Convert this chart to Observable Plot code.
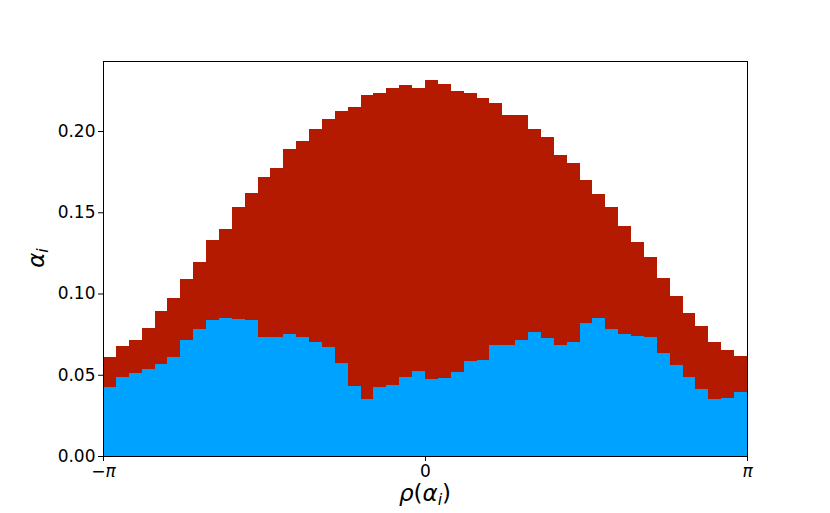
<!DOCTYPE html>
<html>
<head>
<meta charset="utf-8">
<script src="https://cdn.jsdelivr.net/npm/d3@7"></script>
<script src="https://cdn.jsdelivr.net/npm/@observablehq/plot@0.6"></script>
<style>
  html, body { margin: 0; padding: 0; background: #fff; }
  #chart { width: 830px; height: 513px; }
</style>
</head>
<body>
<div id="chart"></div>
<script>
// Histogram bin heights (50 bins spanning -π..π)
const redValues = [
  0.0611, 0.0677, 0.0714, 0.0786, 0.0894, 0.0970, 0.1089, 0.1192, 0.1327, 0.1399,
  0.1530, 0.1621, 0.1719, 0.1772, 0.1887, 0.1936, 0.2010, 0.2076, 0.2125, 0.2148,
  0.2219, 0.2236, 0.2267, 0.2283, 0.2265, 0.2312, 0.2287, 0.2244, 0.2232, 0.2203,
  0.2170, 0.2096, 0.2096, 0.2010, 0.1961, 0.1852, 0.1801, 0.1696, 0.1610, 0.1530,
  0.1415, 0.1315, 0.1225, 0.1093, 0.0983, 0.0880, 0.0798, 0.0700, 0.0650, 0.0615
];
const blueValues = [
  0.0423, 0.0488, 0.0511, 0.0535, 0.0564, 0.0609, 0.0714, 0.0780, 0.0837, 0.0851,
  0.0843, 0.0837, 0.0730, 0.0732, 0.0749, 0.0730, 0.0703, 0.0673, 0.0574, 0.0433,
  0.0349, 0.0427, 0.0437, 0.0488, 0.0525, 0.0472, 0.0482, 0.0517, 0.0583, 0.0591,
  0.0685, 0.0683, 0.0714, 0.0761, 0.0724, 0.0683, 0.0700, 0.0818, 0.0847, 0.0782,
  0.0751, 0.0740, 0.0734, 0.0636, 0.0558, 0.0486, 0.0412, 0.0351, 0.0359, 0.0392
];
const yTicks = [0, 0.05, 0.10, 0.15, 0.20];
const xTicks = [-Math.PI, 0, Math.PI];
const xTickLabels = ["−π", "0", "π"];

const nBins = redValues.length;
const binW = 2 * Math.PI / nBins;
const toRows = vals => vals.map((v, i) => ({x1: -Math.PI + i * binW, x2: -Math.PI + (i + 1) * binW, y: v}));
const redRows = toRows(redValues);
const blueRows = toRows(blueValues);

const RED = "#b31a00";
const BLUE = "#00a2ff";

const chart = Plot.plot({
  width: 830,
  height: 513,
  marginLeft: 103,
  marginRight: 83,
  marginTop: 61,
  marginBottom: 57,
  style: {fontFamily: "DejaVu Sans", fontSize: "17px", color: "#000", background: "#fff"},
  x: {domain: [-Math.PI, Math.PI], ticks: xTicks, tickFormat: (d, i) => xTickLabels[i], tickSize: 5, tickPadding: 3, label: null},
  y: {domain: [0, 0.2431], ticks: yTicks, tickFormat: d3.format(".2f"), tickSize: 5, tickPadding: 3, label: null},
  marks: [
    Plot.rectY(redRows, {x1: "x1", x2: "x2", y: "y", fill: RED, inset: 0, shapeRendering: "crispEdges"}),
    Plot.rectY(blueRows, {x1: "x1", x2: "x2", y: "y", fill: BLUE, inset: 0, shapeRendering: "crispEdges"}),
    Plot.frame({stroke: "#000", strokeWidth: 1})
  ]
});
document.getElementById("chart").appendChild(chart);

const svg = d3.select(chart);
svg.selectAll("[aria-label='x-axis tick label'] text").each(function() {
  const t = d3.select(this);
  if (t.text().includes("π")) t.style("font-style", "italic");
});

// Axis labels with subscripts
const xl = svg.append("text")
  .attr("x", 425).attr("y", 501)
  .attr("text-anchor", "middle")
  .style("font-family", "DejaVu Sans").style("font-size", "23px").style("font-style", "italic");
xl.append("tspan").text("ρ");
xl.append("tspan").style("font-style", "normal").text("(");
xl.append("tspan").text("α");
xl.append("tspan").attr("dy", 4).style("font-size", "16px").text("i");
xl.append("tspan").attr("dy", -4).style("font-style", "normal").text(")");

const yl = svg.append("text")
  .attr("transform", "translate(44,258) rotate(-90)")
  .attr("text-anchor", "middle")
  .style("font-family", "DejaVu Sans").style("font-size", "23px").style("font-style", "italic");
yl.append("tspan").text("α");
yl.append("tspan").attr("dy", 4).style("font-size", "16px").text("i");
</script>
</body>
</html>
